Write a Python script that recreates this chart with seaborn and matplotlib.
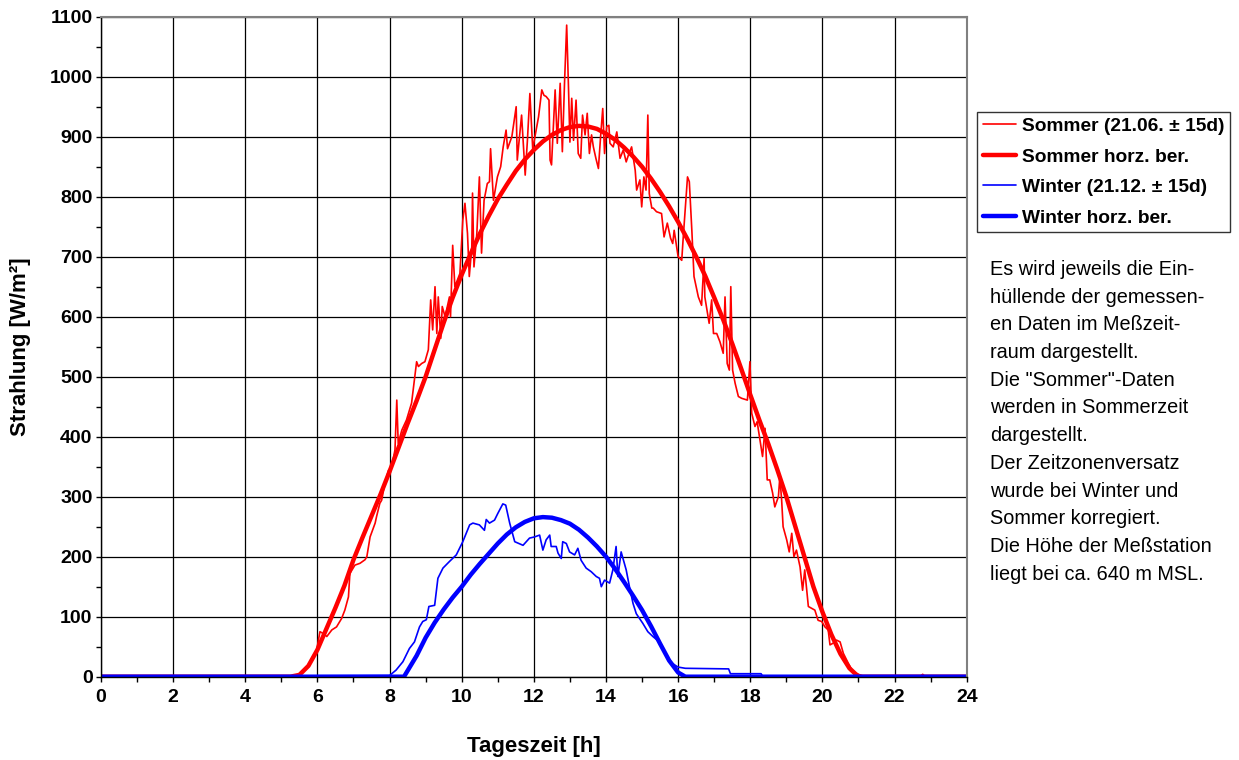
import matplotlib
matplotlib.use("Agg")
import matplotlib.pyplot as plt
import seaborn as sns
from matplotlib.ticker import MultipleLocator

# ---------------- data ----------------
sommer_h = [0.0, 5.42, 5.70, 5.98, 6.07, 6.16, 6.26, 6.40, 6.53, 6.67, 6.76, 6.86, 6.90, 7.04, 7.18,
            7.32, 7.37, 7.46, 7.60, 7.64, 7.73, 7.78, 7.87, 7.97, 8.06, 8.15, 8.20, 8.24, 8.34, 8.47,
            8.61, 8.75, 8.80, 8.89, 8.98, 9.075, 9.14, 9.195, 9.26, 9.31, 9.35, 9.42, 9.46, 9.54, 9.58,
            9.66, 9.69, 9.75, 9.81, 9.95, 10.03, 10.09, 10.16, 10.21, 10.28, 10.30, 10.34, 10.42, 10.49,
            10.55, 10.62, 10.71, 10.77, 10.80, 10.88, 10.99, 11.08, 11.15, 11.23, 11.27, 11.39, 11.51,
            11.54, 11.66, 11.76, 11.82, 11.89, 11.97, 12.03, 12.13, 12.22, 12.28, 12.34, 12.42, 12.45,
            12.49, 12.59, 12.65, 12.73, 12.79, 12.85, 12.91, 12.96, 13.00, 13.05, 13.10, 13.17, 13.23,
            13.30, 13.35, 13.42, 13.48, 13.54, 13.60, 13.65, 13.72, 13.79, 13.85, 13.91, 13.96, 14.02,
            14.08, 14.11, 14.20, 14.30, 14.39, 14.48, 14.56, 14.62, 14.71, 14.81, 14.85, 14.94, 14.99,
            15.05, 15.11, 15.16, 15.20, 15.27, 15.31, 15.40, 15.54, 15.61, 15.70, 15.79, 15.85, 15.89,
            16.00, 16.10, 16.14, 16.26, 16.31, 16.38, 16.44, 16.56, 16.65, 16.72, 16.74, 16.86, 16.93,
            16.98, 17.07, 17.16, 17.25, 17.30, 17.36, 17.42, 17.46, 17.51, 17.58, 17.67, 17.76, 17.92,
            17.99, 18.04, 18.13, 18.19, 18.27, 18.34, 18.41, 18.47, 18.54, 18.62, 18.68, 18.78, 18.82,
            18.87, 18.91, 19.01, 19.08, 19.15, 19.21, 19.28, 19.38, 19.45, 19.51, 19.61, 19.70, 19.79,
            19.88, 19.98, 20.07, 20.16, 20.21, 20.30, 20.39, 20.49, 20.58, 20.72, 20.85, 21.04, 21.18,
            22.70, 22.78, 22.85, 24.0]
sommer_w = [0, 0, 15, 45, 75, 72, 67, 78, 83, 97, 111, 133, 172, 186, 189,
            195, 200, 233, 256, 267, 289, 294, 322, 344, 350, 378, 461, 389, 411, 428,
            456, 525, 517, 522, 525, 545, 628, 578, 650, 572, 633, 564, 617, 600, 611,
            633, 600, 719, 650, 672, 761, 789, 739, 667, 717, 806, 683, 739, 833,
            706, 794, 822, 825, 880, 794, 833, 850, 883, 911, 880, 900, 950,
            861, 936, 836, 892, 972, 878, 900, 933, 978, 969, 967, 961, 861,
            853, 978, 889, 989, 875, 989, 1086, 983, 891, 964, 894, 961, 872,
            864, 936, 903, 939, 872, 903, 883, 864, 847, 900, 947, 872, 917,
            919, 889, 883, 908, 864, 878, 858, 869, 883, 844, 811, 828, 783,
            833, 811, 936, 805, 781, 781, 775, 772, 733, 756, 731, 722, 744,
            700, 694, 731, 833, 825, 744, 667, 633, 619, 697, 633, 589, 628,
            572, 572, 558, 539, 633, 522, 511, 650, 511, 489, 467, 464, 461,
            525, 439, 417, 425, 394, 367, 414, 328, 328, 306, 283, 300, 333,
            294, 250, 228, 208, 239, 200, 211, 183, 144, 178, 117, 114, 111,
            94, 92, 83, 78, 53, 56, 61, 58, 39, 22, 8, 3, 0,
            0, 4, 0, 0]

sommer_ber_h = [0.0, 5.25, 5.5, 5.75, 6.0, 6.25, 6.5, 6.75, 7.0, 7.25, 7.5, 7.75, 8.0, 8.25, 8.5,
                8.75, 9.0, 9.25, 9.5, 9.75, 10.0, 10.25, 10.5, 10.75, 11.0, 11.25, 11.5, 11.75,
                12.0, 12.25, 12.5, 12.75, 13.0, 13.25, 13.5, 13.75, 14.0, 14.25, 14.5, 14.75,
                15.0, 15.25, 15.5, 15.75, 16.0, 16.25, 16.5, 16.75, 17.0, 17.25, 17.5, 17.75,
                18.0, 18.25, 18.5, 18.75, 19.0, 19.25, 19.5, 19.75, 20.0, 20.25, 20.5, 20.75,
                21.0, 24.0]
sommer_ber_w = [0, 0, 3, 18, 45, 80, 115, 152, 195, 232, 268, 304, 342, 382, 422,
                460, 500, 545, 590, 632, 670, 705, 738, 768, 796, 820, 843, 862,
                878, 892, 903, 911, 916, 918, 917, 913, 905, 895, 882, 867,
                850, 830, 808, 784, 758, 730, 700, 668, 632, 595, 555, 513,
                470, 428, 388, 345, 300, 250, 200, 150, 108, 70, 38, 14,
                0, 0]

winter_h = [0.0, 8.00, 8.18, 8.37, 8.55, 8.69, 8.83, 8.92, 9.02, 9.09, 9.25, 9.34, 9.48, 9.66, 9.85,
            10.03, 10.22, 10.31, 10.49, 10.63, 10.68, 10.77, 10.91, 11.00, 11.14, 11.22, 11.33,
            11.47, 11.70, 11.88, 12.02, 12.16, 12.25, 12.34, 12.44, 12.48, 12.62, 12.67, 12.76,
            12.80, 12.90, 12.99, 13.13, 13.22, 13.31, 13.45, 13.59, 13.73, 13.82, 13.87, 13.96,
            14.10, 14.19, 14.28, 14.33, 14.42, 14.56, 14.65, 14.75, 14.84, 15.02, 15.16, 15.30,
            15.48, 15.76, 16.00, 16.20, 17.40, 17.45, 18.30, 18.35, 24.0]
winter_w = [0, 2, 11, 25, 47, 58, 83, 92, 95, 117, 119, 164, 181, 192, 203,
            225, 253, 256, 253, 244, 262, 256, 261, 272, 288, 286, 256,
            225, 219, 231, 233, 236, 211, 228, 236, 217, 217, 206, 197,
            225, 222, 208, 203, 214, 194, 181, 175, 167, 164, 150, 161,
            156, 178, 217, 167, 208, 178, 150, 122, 105, 89, 75, 67,
            58, 25, 16, 14, 13, 5, 5, 0, 0]

winter_ber_h = [0.0, 8.4, 8.5, 8.75, 9.0, 9.25, 9.5, 9.75, 10.0, 10.25, 10.5, 10.75, 11.0, 11.25,
                11.5, 11.75, 12.0, 12.25, 12.5, 12.75, 13.0, 13.25, 13.5, 13.75, 14.0, 14.25,
                14.5, 14.75, 15.0, 15.25, 15.5, 15.75, 16.0, 16.2, 24.0]
winter_ber_w = [0, 0, 10, 35, 65, 90, 112, 132, 150, 170, 188, 205, 222, 237,
                249, 258, 264, 266, 265, 261, 255, 245, 232, 217, 200, 180,
                158, 135, 111, 84, 55, 27, 7, 0, 0]

labels = ["Sommer (21.06. ± 15d)", "Sommer horz. ber.", "Winter (21.12. ± 15d)", "Winter horz. ber."]
x_ticks = list(range(0, 25, 2))
y_ticks = list(range(0, 1101, 100))
note = ("Es wird jeweils die Ein-\nhüllende der gemessen-\nen Daten im Meßzeit-\n"
        "raum dargestellt.\nDie \"Sommer\"-Daten\nwerden in Sommerzeit\ndargestellt.\n"
        "Der Zeitzonenversatz\nwurde bei Winter und\nSommer korregiert.\n"
        "Die Höhe der Meßstation\nliegt bei ca. 640 m MSL.")

# ---------------- plot ----------------
sns.set_theme(style="white")
plt.rcParams["font.family"] = ["Liberation Sans", "DejaVu Sans"]

fig = plt.figure(figsize=(12.39, 7.6), dpi=100)
fig.patch.set_facecolor("white")
W, H = 1239, 760
ax = fig.add_axes([101 / W, (H - 676.7) / H, 865.7 / W, 660 / H])

red, blue = "#ff0000", "#0000ff"
sns.lineplot(x=sommer_h, y=sommer_w, ax=ax, color=red, lw=1.2, label=labels[0],
             sort=False, estimator=None)
sns.lineplot(x=sommer_ber_h, y=sommer_ber_w, ax=ax, color=red, lw=3.2, label=labels[1],
             sort=False, estimator=None)
sns.lineplot(x=winter_h, y=winter_w, ax=ax, color=blue, lw=1.2, label=labels[2],
             sort=False, estimator=None)
sns.lineplot(x=winter_ber_h, y=winter_ber_w, ax=ax, color=blue, lw=3.2, label=labels[3],
             sort=False, estimator=None)

ax.set_xlim(0, 24)
ax.set_ylim(0, 1100)
ax.set_xticks(x_ticks)
ax.set_yticks(y_ticks)
ax.xaxis.set_minor_locator(MultipleLocator(1))
ax.yaxis.set_minor_locator(MultipleLocator(50))
ax.set_axisbelow(True)
ax.grid(which="major", color="black", lw=0.9)
ax.grid(which="minor", visible=False)
ax.tick_params(which="both", direction="out", bottom=True, left=True, color="black",
               width=1, labelsize=14, pad=2.5, length=3.6)
ax.tick_params(axis="x", which="both", pad=5.5)
for lab in ax.get_xticklabels() + ax.get_yticklabels():
    lab.set_fontweight("bold")
    lab.set_color("black")

for s in ["left", "bottom"]:
    ax.spines[s].set_color("black")
    ax.spines[s].set_linewidth(1.0)
for s in ["top", "right"]:
    ax.spines[s].set_color("#808080")
    ax.spines[s].set_linewidth(1.5)

ax.set_xlabel("Tageszeit [h]", fontsize=16, fontweight="bold", color="black", labelpad=21)
ax.set_ylabel("Strahlung [W/m²]", fontsize=16, fontweight="bold", color="black", labelpad=13)

leg = ax.legend(loc="upper left", bbox_to_anchor=(977 / W, 1 - 112 / H),
                bbox_transform=fig.transFigure, frameon=True, fancybox=False,
                edgecolor="black", prop={"weight": "bold", "size": 13.8},
                handlelength=1.75, handletextpad=0.3, borderpad=0.3, labelspacing=0.68,
                borderaxespad=0)
leg.get_frame().set_linewidth(1.0)
for t in leg.get_texts():
    t.set_color("black")

fig.text(990 / W, 1 - 260 / H, note, ha="left", va="top", fontsize=14.3,
         color="black", linespacing=1.58)

fig.savefig("out.png", dpi=100, facecolor="white")
